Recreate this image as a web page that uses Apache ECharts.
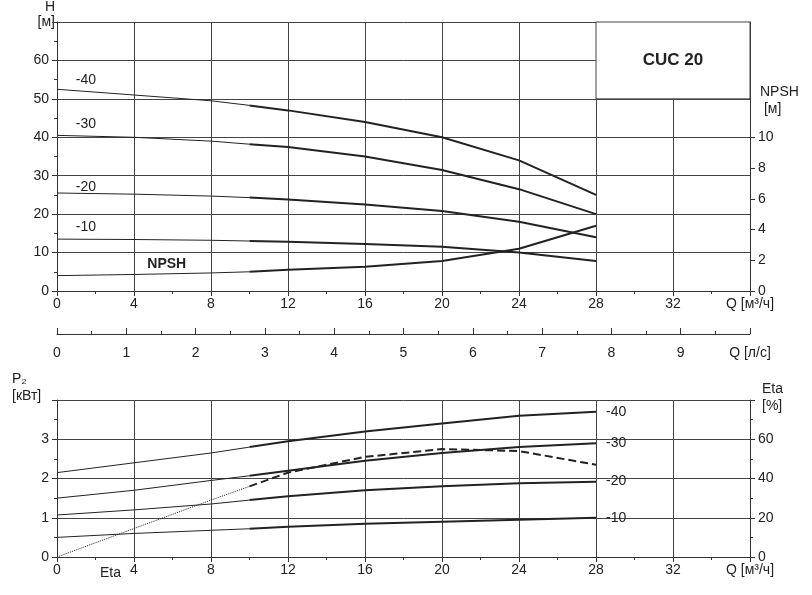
<!DOCTYPE html><html><head><meta charset="utf-8"><script src="https://cdn.jsdelivr.net/npm/echarts@6/dist/echarts.min.js"></script>
<style>body{margin:0}#c{width:812px;height:595px}</style></head><body><div id="c"></div><script>
const qThin=[0,4,8,10], qThick=[10,12,16,20,24,28];
const H40=[52.5,51,49.5,48.3,47,44,40,34,25];
const H30=[40.5,40,39,38.2,37.5,35,31.5,26.5,20];
const H20=[25.5,25.2,24.7,24.3,23.8,22.5,20.8,18,14];
const H10=[13.5,13.4,13.2,13,12.8,12.2,11.5,10,7.8];
const NPSH_H=[4,4.3,4.7,5,5.5,6.3,7.8,11,17];
const P40=[2.15,2.4,2.65,2.8,2.95,3.2,3.4,3.6,3.7];
const P30=[1.5,1.7,1.95,2.07,2.2,2.45,2.65,2.8,2.9];
const P20=[1.07,1.2,1.35,1.45,1.55,1.7,1.8,1.88,1.92];
const P10=[0.5,0.6,0.68,0.72,0.77,0.85,0.9,0.95,1.0];
const ETA=[0,14.5,29,36,43,51,55,54,47];
const NPSH_TICKS=[0,2,4,6,8,10];
const C='#222', F='Liberation Sans';
const thin=v=>qThin.map((q,i)=>[q,v[i]]);
const thick=v=>qThick.map((q,i)=>[q,v[i+3]]);
function pair(v,xi,yi,lbl,opt={}){
 const base={type:'line',xAxisIndex:xi,yAxisIndex:yi,symbol:'none',silent:true,animation:false};
 return [Object.assign({},base,{data:thin(v),lineStyle:{color:C,width:1,type:opt.t1||'solid'}}),
  Object.assign({},base,{data:thick(v),lineStyle:{color:C,width:2,type:opt.t2||'solid'},
   endLabel:lbl?{show:true,formatter:lbl,color:C,fontFamily:F,fontSize:14,offset:[2,0]}:undefined})];
}
function txt(xi,yi,x,y,t,bold){return {type:'line',xAxisIndex:xi,yAxisIndex:yi,data:[],markPoint:{symbol:'circle',symbolSize:0,silent:true,data:[{coord:[x,y]}],label:{show:true,formatter:t,color:C,fontFamily:F,fontSize:14,fontWeight:bold?'bold':'normal',position:'inside'}},animation:false};}
const axL={color:C,fontFamily:F,fontSize:14};
const line={lineStyle:{color:'#333',width:1}};
const split={show:true,showMaxLine:true,lineStyle:{color:'#444',width:1}};
const opt={animation:false,
grid:[{left:57,right:62,top:22,height:269},{left:57,right:62,top:334,height:0},{left:57,right:62,top:400,height:157}],
xAxis:[
 {gridIndex:0,type:'value',min:0,max:36,interval:4,axisLine:Object.assign({onZero:false},line),axisTick:{length:5},minorTick:{show:true,splitNumber:2,length:3},splitLine:split,
  axisLabel:Object.assign({},axL,{margin:6,formatter:v=>v==36?'Q [м³/ч]':v})},
 {gridIndex:1,type:'value',min:0,max:10,interval:1,axisLine:line,axisTick:{length:6,inside:true},minorTick:{show:true,splitNumber:2,length:3},splitLine:{show:false},
  axisLabel:Object.assign({},axL,{margin:12,formatter:v=>v==10?'Q [л/с]':v})},
 {gridIndex:2,type:'value',min:0,max:36,interval:4,axisLine:Object.assign({onZero:false},line),axisTick:{length:5},minorTick:{show:true,splitNumber:2,length:3},splitLine:split,
  axisLabel:Object.assign({},axL,{margin:6,formatter:v=>v==36?'Q [м³/ч]':v})}
],
yAxis:[
 {gridIndex:0,type:'value',min:0,max:70,interval:10,axisLine:Object.assign({show:true},line),axisTick:{show:true,length:5},minorTick:{show:true,splitNumber:2,length:3},splitLine:split,
  axisLabel:Object.assign({},axL,{formatter:v=>v==70?'':v}),name:'H\n[м]',nameLocation:'end',nameGap:-8,nameTextStyle:Object.assign({},axL,{align:'right',padding:[0,2,0,0],lineHeight:15})},
 {gridIndex:0,type:'value',min:0,max:17.5,interval:2,position:'right',axisLine:Object.assign({show:true},line),
  axisTick:{show:true,length:5,customValues:NPSH_TICKS},splitLine:{show:false},
  axisLabel:Object.assign({},axL,{customValues:NPSH_TICKS})},
 {gridIndex:1,type:'value',show:false},
 {gridIndex:2,type:'value',min:0,max:4,interval:1,axisLine:Object.assign({show:true},line),axisTick:{show:true,length:5},minorTick:{show:true,splitNumber:2,length:3},splitLine:split,
  axisLabel:Object.assign({},axL,{formatter:v=>v==4?'':v})},
 {gridIndex:2,type:'value',min:0,max:80,interval:20,position:'right',axisLine:Object.assign({show:true},line),axisTick:{show:true,length:5},minorTick:{show:true,splitNumber:2,length:3},splitLine:{show:false},
  axisLabel:Object.assign({},axL,{formatter:v=>v==80?'':v})}
],
graphic:[
 {type:'text',left:760,top:84,style:{text:'NPSH\n [м]',font:'14px Liberation Sans',fill:C,lineHeight:17}},
 {type:'text',left:12,top:371,style:{text:'P₂\n[кВт]',font:'14px Liberation Sans',fill:C,lineHeight:17}},
 {type:'text',left:762,top:381,style:{text:'Eta\n[%]',font:'14px Liberation Sans',fill:C,lineHeight:17}},
 {type:'text',left:100,top:566,style:{text:'Eta',font:'14px Liberation Sans',fill:C}}
],
series:[].concat(
 [{type:'line',xAxisIndex:0,yAxisIndex:0,data:[],markArea:{silent:true,itemStyle:{color:'#fff',borderColor:'#444',borderWidth:1},
  label:{show:true,position:'inside',formatter:'CUC 20',fontFamily:F,fontSize:17,fontWeight:'bold',color:C},
  data:[[{coord:[28,50]},{coord:[36,70]}]]}}],
 pair(H40,0,0),pair(H30,0,0),pair(H20,0,0),pair(H10,0,0),pair(NPSH_H,0,0),
 [txt(0,0,1.5,55,'-40'),txt(0,0,1.5,43.3,'-30'),txt(0,0,1.5,27,'-20'),txt(0,0,1.5,16.5,'-10'),txt(0,0,5.7,7,'NPSH',true)],
 pair(P40,2,3,'-40'),pair(P30,2,3,'-30'),pair(P20,2,3,'-20'),pair(P10,2,3,'-10'),
 pair(ETA,2,4,null,{t1:'dotted',t2:'dashed'})
)};
echarts.init(document.getElementById('c')).setOption(opt);
</script></body></html>
